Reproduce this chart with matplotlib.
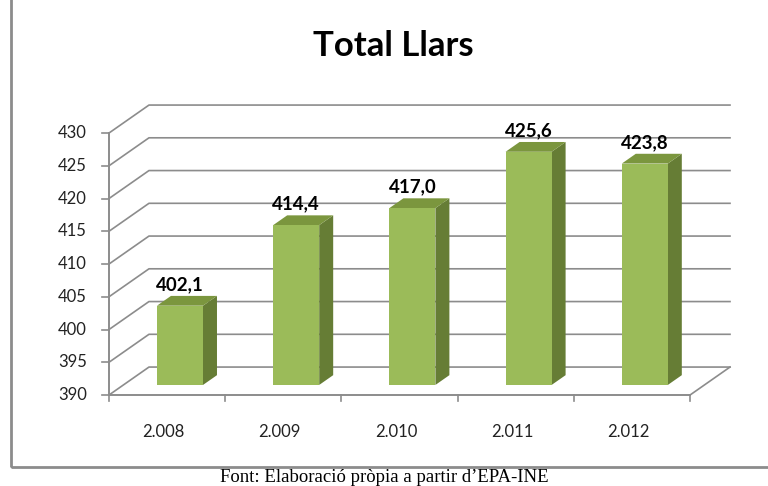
import numpy as np
import matplotlib
matplotlib.use("Agg")
import matplotlib.pyplot as plt
from matplotlib.patches import Polygon, Rectangle

# data
years = ["2.008", "2.009", "2.010", "2.011", "2.012"]
values = [402.1, 414.4, 417.0, 425.6, 423.8]
value_labels = ["402,1", "414,4", "417,0", "425,6", "423,8"]
yticks = [390, 395, 400, 405, 410, 415, 420, 425, 430]

YMIN, YMAX = 390, 430
DX, DY = 0.344, 4.27          # depth offset of the back wall (category units, value units)
D0, D1 = 0.36, 0.71           # bar depth range (fraction of full depth)
B0, B1 = 0.289, 0.685         # bar front face left/right inside category

GRID = "#8c8c8c"
FRONT = "#9bbb59"
TOP = "#7b963e"
SIDE = "#667d35"

fig = plt.figure(figsize=(7.68, 4.86), dpi=100)
ax = fig.add_axes([0, 0, 1, 1])
ax.set_xlim(-0.938, 5.671)
ax.set_ylim(376.11, 450.31)
ax.axis("off")

n = len(values)

# back wall gridlines + left wall diagonals
for v in yticks:
    ax.plot([0, DX, n + DX], [v, v + DY, v + DY], color=GRID, lw=1.2, zorder=1)
    ax.plot([-0.06, 0], [v, v], color=GRID, lw=1.2, zorder=1)

# left axis and floor
ax.plot([0, 0], [YMIN, YMAX], color=GRID, lw=1.4, zorder=1)
ax.plot([0, n], [YMIN, YMIN], color=GRID, lw=1.4, zorder=1)
ax.plot([n, n + DX], [YMIN, YMIN + DY], color=GRID, lw=1.2, zorder=1)
for i in range(n + 1):
    ax.plot([i, i], [YMIN, YMIN - 0.9], color=GRID, lw=1.2, zorder=1)

# bars (faux 3D)
for i, v in enumerate(values):
    x0 = i + B0 + D0 * DX
    x1 = i + B1 + D0 * DX
    yb = YMIN + D0 * DY
    yt = v + D0 * DY
    ddx = (D1 - D0) * DX
    ddy = (D1 - D0) * DY
    ax.add_patch(Polygon([(x1, yb), (x1 + ddx, yb + ddy), (x1 + ddx, yt + ddy), (x1, yt)],
                         closed=True, facecolor=SIDE, edgecolor="none", zorder=3))
    ax.add_patch(Polygon([(x0, yt), (x1, yt), (x1 + ddx, yt + ddy), (x0 + ddx, yt + ddy)],
                         closed=True, facecolor=TOP, edgecolor="none", zorder=3))
    ax.add_patch(Rectangle((x0, yb), x1 - x0, yt - yb, facecolor=FRONT, edgecolor="none", zorder=4))
    ax.text((x0 + x1) / 2, yt + ddy + 0.4, value_labels[i], ha="center", va="bottom",
            fontsize=13.5, fontweight="bold", family="Lato", zorder=5)

# tick labels
for v in yticks:
    ax.text(-0.19, v, str(v), ha="right", va="center", fontsize=12, family="Lato", color="#222222")
for i, y in enumerate(years):
    ax.text(i + 0.47, YMIN - 5.6, y, ha="center", va="center", fontsize=12, family="Lato", color="#222222")

# title
fig.text(0.512, 0.905, "Total Llars", ha="center", va="center", fontsize=25,
         fontweight="bold", family="Lato")

# outer frame
fig.patches.append(Rectangle((11 / 768, 1 - 467 / 486), 2.0, 2.0, transform=fig.transFigure,
                             facecolor="none", edgecolor=GRID, lw=2, zorder=0))

fig.text(0.5, 1 - 477 / 486, "Font: Elaboraci\u00f3 pr\u00f2pia a partir d\u2019EPA-INE",
         ha="center", va="center", fontsize=13.5, family="Liberation Serif")

fig.savefig("out.png", dpi=100)
